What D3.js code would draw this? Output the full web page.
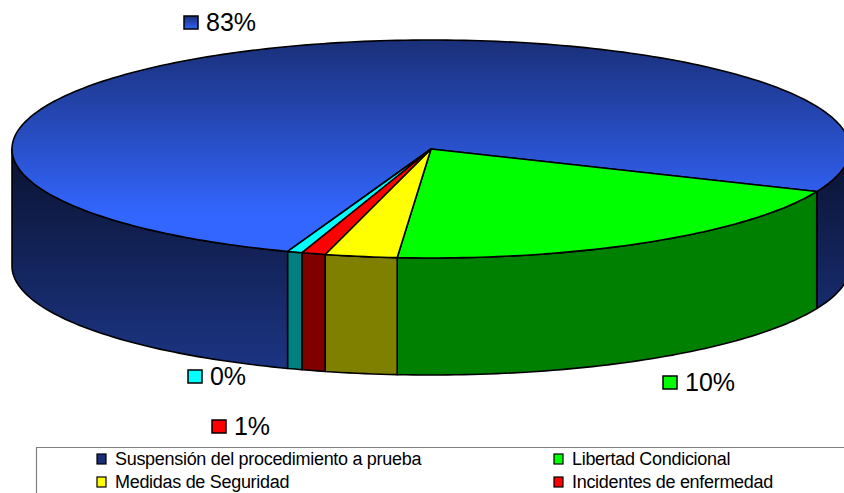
<!DOCTYPE html>
<html>
<head>
<meta charset="utf-8">
<script src="https://cdn.jsdelivr.net/npm/d3@7"></script>
<style>
    html, body { margin: 0; padding: 0; background: #fff; overflow: hidden; }
    text { font-family: "Liberation Sans", Arial, sans-serif; fill: #000; }
</style>
</head>
<body>
<div id="chart"></div>
<script>
// share of the drawn circle per slice
const sliceNames = ["Suspensión del procedimiento a prueba", "Libertad Condicional", "Medidas de Seguridad", "Incidentes de enfermedad", "Otros"];
const sliceShares = [75.83, 19.9, 2.78, 0.92, 0.57];
// printed labels (the chart prints these, they differ from the drawn angles)
const labelTexts = ["83%", "10%", null, "1%", "0%"];
const topColors = ["url(#topBlue)", "#00ff00", "#ffff00", "#ff0000", "#00ffff"];
const sideColors = ["url(#sideBlue)", "#008000", "#808000", "#800000", "#008080"];

const width = 844, height = 493;
const depth = 117;

// unit circle -> tilted ellipse
const xPos = d3.scaleLinear().domain([-1, 1]).range([12, 850]);
const yPos = d3.scaleLinear().domain([-1, 1]).range([258, 40]);

const svg = d3.select("#chart").append("svg")
    .attr("width", width)
    .attr("height", height)
    .style("display", "block");

const defs = svg.append("defs");
function addGradient(id, y1, y2, c1, c2) {
    const g = defs.append("linearGradient")
        .attr("id", id)
        .attr("gradientUnits", "userSpaceOnUse")
        .attr("x1", 0).attr("x2", 0)
        .attr("y1", y1).attr("y2", y2);
    g.append("stop").attr("offset", 0).attr("stop-color", c1);
    g.append("stop").attr("offset", 1).attr("stop-color", c2);
}
addGradient("topBlue", 40, 215, "#1a2f78", "#3366ff");
addGradient("sideBlue", 147, 370, "#0a1230", "#1c3584");
addGradient("markBlue", 16, 30, "#1a2f78", "#3366ff");

// cut the circle so that blue wraps round the back and ends at the green slice
const startAngle = -160 * Math.PI / 180;
const pie = d3.pie().sort(null).startAngle(startAngle).endAngle(startAngle + 2 * Math.PI);
const arcs = pie(sliceShares);

const px = a => xPos(Math.sin(a));
const py = a => yPos(Math.cos(a));
const line = d3.line();

function rim(a0, a1, dy) {
    const n = Math.max(2, Math.ceil((a1 - a0) / 0.02));
    return d3.range(n + 1).map(i => {
        const a = a0 + (a1 - a0) * i / n;
        return [px(a), py(a) + dy];
    });
}

// walls first, only the part of the rim that faces the viewer
const full = Math.PI * 2;
const walls = [];
arcs.forEach((d, i) => {
    [[Math.PI / 2, Math.PI * 1.5], [Math.PI / 2 - full, Math.PI * 1.5 - full]].forEach(front => {
        const a0 = Math.max(d.startAngle, front[0]);
        const a1 = Math.min(d.endAngle, front[1]);
        if (a1 > a0) walls.push({i: i, a0: a0, a1: a1});
    });
});

svg.append("g").selectAll("path")
    .data(walls)
    .join("path")
    .attr("d", d => line(rim(d.a0, d.a1, 0).concat(rim(d.a0, d.a1, depth).reverse())) + "Z")
    .attr("fill", d => sideColors[d.i])
    .attr("stroke", "#000")
    .attr("stroke-width", 1.6)
    .attr("stroke-linejoin", "round");

// top face
svg.append("g").selectAll("path")
    .data(arcs)
    .join("path")
    .attr("d", d => line([[xPos(0), yPos(0)]].concat(rim(d.startAngle, d.endAngle, 0))) + "Z")
    .attr("fill", (d, i) => topColors[i])
    .attr("stroke", "#000")
    .attr("stroke-width", 1.6)
    .attr("stroke-linejoin", "round");

// data labels, placed by hand as in the original
const labelPos = [[184, 16], [663, 376], null, [212, 420], [188, 370]];
const markFill = ["url(#markBlue)", "#00ff00", "#ffff00", "#ff0000", "#00ffff"];
const labels = svg.append("g");
labelTexts.forEach((t, i) => {
    if (t === null) return;
    const p = labelPos[i];
    labels.append("rect")
        .attr("x", p[0]).attr("y", p[1])
        .attr("width", 14).attr("height", 13)
        .attr("fill", markFill[i])
        .attr("stroke", "#000")
        .attr("stroke-width", 1.5);
    labels.append("text")
        .attr("x", p[0] + 22)
        .attr("y", p[1] + 15)
        .attr("font-size", 25)
        .attr("textLength", t.length === 3 ? 50 : 36)
        .text(t);
});

// legend, the frame runs off the right and bottom of the picture
svg.append("path")
    .attr("d", `M${width + 2},447.5H36.5V${height + 2}`)
    .attr("fill", "none")
    .attr("stroke", "#808080")
    .attr("stroke-width", 1.2);

const legendItems = [0, 1, 2, 3];
const legendX = d3.scaleOrdinal().domain([0, 1]).range([97, 554]);
const legendY = d3.scaleOrdinal().domain([0, 1]).range([454, 477]);
const legend = svg.append("g").selectAll("g")
    .data(legendItems)
    .join("g")
    .attr("transform", d => `translate(${legendX(d % 2)},${legendY(Math.floor(d / 2))})`);
legend.append("rect")
    .attr("width", 9).attr("height", 10)
    .attr("fill", d => markFill[d])
    .attr("stroke", "#000")
    .attr("stroke-width", 1.2);
legend.append("text")
    .attr("x", 18)
    .attr("y", 11)
    .attr("font-size", 18)
    .attr("letter-spacing", "-0.3")
    .text(d => sliceNames[d]);
</script>
</body>
</html>
